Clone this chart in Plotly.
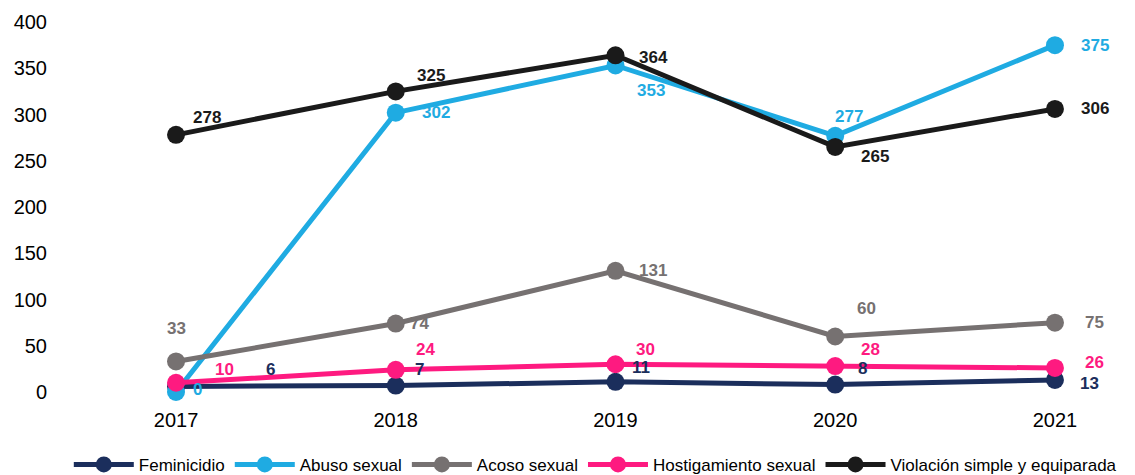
import plotly.graph_objects as go

years = ["2017", "2018", "2019", "2020", "2021"]
series_names = ["Feminicidio", "Abuso sexual", "Acoso sexual", "Hostigamiento sexual", "Violación simple y equiparada"]
feminicidio = [6, 7, 11, 8, 13]
abuso_sexual = [0, 302, 353, 277, 375]
acoso_sexual = [33, 74, 131, 60, 75]
hostigamiento_sexual = [10, 24, 30, 28, 26]
violacion = [278, 325, 364, 265, 306]
y_ticks = [0, 50, 100, 150, 200, 250, 300, 350, 400]

colors = ["#1b2e5c", "#1fabe2", "#767171", "#fe1a80", "#1a1a1a"]
values = [feminicidio, abuso_sexual, acoso_sexual, hostigamiento_sexual, violacion]

# label offsets (pixels) per series per year: (dx, dy) with dy positive = up
offsets = [
    [(94, 17), (24, 16), (26, 14), (27, 16), (35, -4)],
    [(21, 3), (40, 0), (36, -25), (14, 19), (40, 0)],
    [(0, 33), (24, 0), (38, 0), (31, 28), (40, 0)],
    [(48, 13), (30, 20), (30, 15), (35, 17), (40, 5)],
    [(31, 17), (35, 16), (38, -2), (40, -10), (40, 0)],
]

FONT = "Arial, 'Liberation Sans', sans-serif"

fig = go.Figure()
for name, vals, col in zip(series_names, values, colors):
    fig.add_trace(go.Scatter(
        x=years, y=vals, name=name, mode="lines+markers",
        line=dict(color=col, width=5),
        marker=dict(color=col, size=18),
        cliponaxis=False,
    ))

annotations = []
for vals, col, offs in zip(values, colors, offsets):
    for i, (v, (dx, dy)) in enumerate(zip(vals, offs)):
        annotations.append(dict(
            x=i, y=v, xref="x", yref="y", text="<b>%d</b>" % v, showarrow=False,
            xshift=dx, yshift=dy, xanchor="center", yanchor="middle",
            font=dict(family=FONT, size=17, color=col),
        ))

fig.update_layout(
    width=1135, height=475,
    margin=dict(l=60, r=15, t=22, b=83, autoexpand=False),
    paper_bgcolor="white", plot_bgcolor="white",
    font=dict(family=FONT, color="#000000", size=20),
    showlegend=True,
    legend=dict(
        orientation="h", x=0.505, xanchor="center", y=-0.197, yanchor="middle",
        font=dict(size=17, color="#000000"), itemwidth=60, tracegroupgap=0,
        bgcolor="rgba(0,0,0,0)",
    ),
    annotations=annotations,
)
fig.update_xaxes(
    type="category", range=[-0.528, 4.296], showgrid=False, showline=False, zeroline=False,
    ticks="", tickfont=dict(size=20, family=FONT), ticklabelstandoff=14,
)
fig.update_yaxes(
    range=[0, 400], tickvals=y_ticks, showgrid=False, showline=False, zeroline=False,
    ticks="", tickfont=dict(size=20, family=FONT), ticklabelstandoff=12,
)

fig.write_html(
    "out.html",
    config={"displayModeBar": False},
    post_script="document.body.style.margin='0';document.body.style.overflow='hidden';",
)
